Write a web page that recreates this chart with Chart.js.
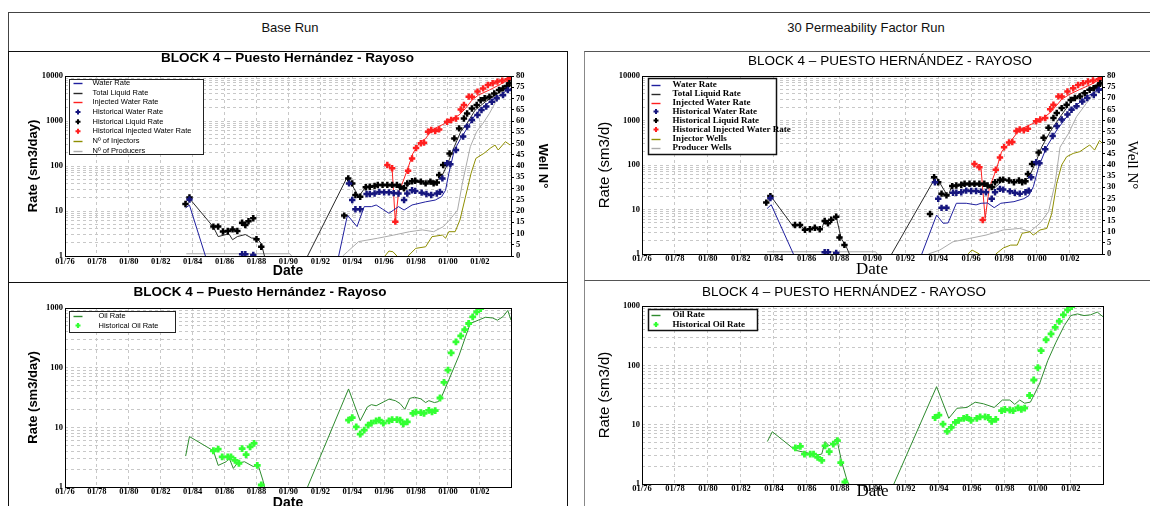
<!DOCTYPE html>
<html>
<head>
<meta charset="utf-8">
<title>BLOCK 4 – Puesto Hernández - Rayoso</title>
<script src="https://cdn.jsdelivr.net/npm/chart.js@4.4.1/dist/chart.umd.min.js"></script>
<style>
  html, body { margin: 0; padding: 0; background: #fff; width: 1150px; height: 506px; overflow: hidden; }
  #page { position: relative; width: 1150px; height: 506px; overflow: hidden; font-family: "Liberation Sans", Arial, sans-serif; }
  .frame { position: absolute; box-sizing: border-box; }
  .hdr { position: absolute; top: 20px; line-height: 15px; font-size: 13px; color: #111; transform: translateX(-50%); white-space: nowrap; }
  canvas { position: absolute; }
</style>
</head>
<body>
<div id="page">
  <div class="frame" style="left:8px;top:12px;width:1300px;height:700px;border:1px solid #444;"></div>
  <div class="hdr" style="left:290px;">Base Run</div>
  <div class="hdr" style="left:866px;">30 Permeability Factor Run</div>

  <div class="frame" style="left:8px;top:51px;width:560px;height:232px;border:1px solid #111;"></div>
  <div class="frame" style="left:8px;top:282px;width:560px;height:400px;border:1px solid #111;"></div>
  <div class="frame" style="left:584px;top:51px;width:700px;height:230px;border:1px solid #555;border-left-color:#888;"></div>
  <div class="frame" style="left:584px;top:280px;width:700px;height:400px;border:1px solid #555;border-left-color:#888;"></div>

  <canvas id="rateBase" width="557" height="228" style="left:9px;top:52px;"></canvas>
  <canvas id="ratePerm" width="610" height="228" style="left:585px;top:52px;"></canvas>
  <canvas id="oilBase"  width="557" height="230" style="left:9px;top:283px;"></canvas>
  <canvas id="oilPerm"  width="592" height="225" style="left:585px;top:281px;"></canvas>
</div>

<script>
// ---------- axes ----------
const X_MIN = 1976, X_MAX = 2003.95;               // decimal years
const dateTicks = [1976, 1978, 1980, 1982, 1984, 1986, 1988, 1990, 1992, 1994, 1996, 1998, 2000, 2002];
const rateDecades = [1, 10, 100, 1000, 10000];
const oilDecades = [1, 10, 100, 1000];
const wellTicks = [0, 5, 10, 15, 20, 25, 30, 35, 40, 45, 50, 55, 60, 65, 70, 75, 80];

// ---------- observed data, [year, sm3/d] ----------
const histLiquid = [[1983.55,14.3],[1983.8,20],[1985.3,4.5],[1985.6,4.5],[1985.9,3.5],[1986.2,3.6],[1986.5,3.9],[1986.8,3.6],[1987.1,5.5],[1987.3,4.9],[1987.5,5.9],[1987.8,6.9],[1988.0,2.35],[1988.3,1.6],
  [1993.5,7.9],[1993.75,53],[1994.0,41],[1994.2,22.7],[1994.5,20.8],[1994.85,33.6],[1995.1,34.6],[1995.4,35.9],[1995.6,37.9],[1995.9,38],[1996.2,38],[1996.5,38],[1996.8,38],[1997.0,34.6],[1997.25,32],[1997.45,41],[1997.75,46],[1997.95,47],[1998.3,45],[1998.6,41],[1998.9,45],[1999.1,41],[1999.3,43],[1999.45,63],[1999.7,105],
  [2000.1,190],[2000.4,410],[2000.7,685],[2001.0,1140],[2001.2,1470],[2001.5,1900],[2001.8,2260],[2002.05,2900],[2002.3,3200],[2002.6,3480],[2002.9,4100],[2003.2,4900],[2003.45,5300],[2003.7,6000],[2003.85,6900]];
const histWater = [[1983.8,18],[1987.1,1.1],[1987.3,1.1],[1987.8,1.05],
  [1993.8,41],[1994.0,17.5],[1994.2,10.9],[1994.5,10.9],[1994.9,23.8],[1995.1,23.8],[1995.4,24.5],[1995.7,26.6],[1996.0,26],[1996.3,26],[1996.6,25],[1996.9,24.5],[1997.25,17.5],[1997.45,24.5],[1997.75,29],[1997.95,28],[1998.35,25.6],[1998.65,23.8],[1998.95,22.7],[1999.3,24.5],[1999.5,26.6],[1999.65,53],[1999.95,115],
  [2000.15,110],[2000.5,226],[2000.95,450],[2001.2,750],[2001.5,1050],[2001.85,1360],[2002.1,1750],[2002.4,2100],[2002.75,2680],[2003.05,3200],[2003.45,3750],[2003.75,4900]];
const histInjected = [[1996.2,105],[1996.5,89],[1996.7,5.8],[1997.5,78],[1997.75,147],[1998.0,250],[1998.3,320],[1998.5,330],[1998.75,580],[1998.95,630],[1999.2,600],[1999.45,650],[1999.95,960],
  [2000.2,1050],[2000.5,1140],[2000.8,1800],[2001.0,2260],[2001.3,3480],[2001.5,3480],[2001.85,4500],[2002.2,5300],[2002.5,6300],[2002.8,6900],[2003.1,7500],[2003.4,7900],[2003.75,8450],[2003.9,9300]];
const histOil = [[1985.3,4.05],[1985.6,4.3],[1985.85,3.2],[1986.2,3.2],[1986.4,3.2],[1986.65,2.8],[1986.9,2.5],[1987.1,4.4],[1987.35,3.5],[1987.6,4.7],[1987.85,5.4],[1988.05,2.3],[1988.3,1.08],
  [1993.77,13.2],[1994.0,14.5],[1994.25,10.2],[1994.5,7.7],[1994.75,9],[1995.0,10.9],[1995.2,11.8],[1995.5,12.8],[1995.7,13.2],[1995.95,11.8],[1996.3,12.8],[1996.5,13.5],[1996.8,13.5],[1997.0,13.2],[1997.2,11.4],[1997.45,12.3],[1997.8,17.2],[1998.0,18],[1998.3,17.6],[1998.5,17.2],[1998.8,19.2],[1999.0,18.2],[1999.2,19],[1999.5,31],[1999.75,56.6],
  [2000.0,91],[2000.2,177],[2000.5,270],[2000.8,340],[2001.05,435],[2001.3,550],[2001.55,710],[2001.8,860],[2002.05,980]];

// ---------- simulated, base run ----------
const simWaterBase = [[1983.55,11.7],[1983.8,13.5],[1984.8,1],[1989,null],[1993.15,1],[1993.7,8.1],[1994.3,4.5],[1994.75,12.5],[1995.2,12.5],[1995.5,13.6],[1995.9,11],[1996.3,8.9],[1996.6,10.5],[1996.9,12.5],[1997.25,10.5],[1997.75,13.6],[1998.6,16],[1999.2,17.5],[1999.6,20.8],[1999.85,29],
  [2000.05,68],[2000.4,226],[2000.8,410],[2001.2,685],[2001.7,1360],[2002.35,2260],[2002.95,3200],[2003.6,4500],[2003.95,5300]];
const simLiquidBase = [[1983.6,16],[1983.8,19],[1985.3,4.4],[1985.6,2.7],[1986.1,3.0],[1986.3,3.0],[1986.5,2.3],[1986.8,2.7],[1987.3,3.0],[1987.7,2.5],[1988.0,2.5],[1988.3,1.9],[1988.5,1],[1990,null],
  [1991.2,1],[1993.7,58],[1994.4,20.8],[1994.85,34.6],[1995.5,37.9],[1996.3,36],[1996.8,34],[1997.2,29],[1997.75,44.6],[1998.6,41],[1999.2,44.6],[1999.6,58],[1999.95,105],
  [2000.4,270],[2000.8,580],[2001.2,890],[2001.7,1750],[2002.35,2680],[2002.95,3750],[2003.6,5300],[2003.95,6300]];
const simInjBase = [[1996.2,105],[1996.5,89],[1996.7,5.8],[1996.9,24.5],[1997.45,81],[1997.8,190],[1998.2,320],[1998.6,410],[1999.0,630],[1999.4,750],[1999.85,890],
  [2000.3,1140],[2000.7,1360],[2001.1,1900],[2001.5,2900],[2001.9,3750],[2002.6,4900],[2003.2,6300],[2003.95,8900]];
const injectorsBase = [[1996.05,0],[1996.3,2.2],[1996.55,1.9],[1996.8,0],[1997.2,null],[1997.5,0],[1997.98,3.4],[1998.6,4.1],[1999.0,8.6],[1999.65,9.3],[1999.85,7.9],
  [2000.05,10.8],[2000.45,10.8],[2000.75,16],[2001.05,24.9],[2001.45,36.8],[2001.75,43.4],[2002.25,45.6],[2002.65,47.9],[2002.95,49.3],[2003.15,47.1],[2003.6,50.8],[2003.9,49.3]];
const producersBase = [[1983.6,1],[1990.1,1],[1990.2,0],[1991,null],[1993.4,0],[1993.7,1.9],[1994.4,6.4],[1995.6,7.9],[1996.6,9.3],[1997.6,10.8],[1998.4,11.6],[1999.1,10.8],[1999.7,13],
  [2000.1,16],[2000.6,20.4],[2000.9,32.3],[2001.4,48.6],[2001.8,55.3],[2002.2,59],[2002.6,63.4],[2003.0,68.6],[2003.45,73.8],[2003.9,76]];
const simOilBase = [[1983.56,3.3],[1983.8,7.0],[1985.3,4.05],[1985.6,2.3],[1986.1,2.65],[1986.3,3.0],[1986.55,2.05],[1986.8,2.5],[1987.25,2.65],[1987.8,2.2],[1988.1,2.35],[1988.4,1.3],[1988.5,1],[1990,null],
  [1991.2,1],[1993.77,44],[1994.5,12.9],[1994.95,22],[1995.2,24],[1995.5,23],[1996.3,29.7],[1996.7,28],[1997.0,25],[1997.3,20],[1997.6,30.5],[1997.9,32],[1998.3,30],[1998.6,26],[1998.8,28],[1999.15,26],[1999.4,27],[1999.6,32.5],
  [2000.05,62],[2000.7,162],[2001.1,330],[2001.4,550],[2001.9,625],[2002.35,700],[2002.8,680],[2003.1,625],[2003.45,716],[2003.75,910],[2003.95,625]];

// ---------- simulated, permeability factor 30 ----------
const simWaterPerm = [[1983.6,10.5],[1983.85,12.8],[1985.2,1],[1989,null],[1993.0,1],[1993.9,7.5],[1994.3,4.9],[1994.6,5.0],[1995.1,13.8],[1995.7,13.8],[1996.3,12.7],[1996.6,13.8],[1997.0,14],[1997.4,11],[1997.8,13.8],[1998.6,15],[1999.2,17.5],[1999.5,20.5],[1999.78,32.6],
  [2000.1,91],[2000.6,260],[2001.2,610],[2001.8,1200],[2002.4,2230],[2003.2,3750],[2003.95,5300]];
const simLiquidPerm = [[1983.6,15],[1983.85,19.4],[1985.2,4.1],[1985.6,4.5],[1985.9,3.5],[1986.3,3.6],[1986.6,4.0],[1986.9,3.5],[1987.1,5.8],[1987.35,4.8],[1987.8,6.9],[1988.1,2.25],[1988.4,1.5],[1988.6,1],[1990,null],
  [1991.17,1],[1993.86,55],[1994.6,19.4],[1994.8,32.6],[1995.5,35],[1996.5,35],[1997.0,33],[1997.35,29],[1997.95,46],[1998.75,42],[1999.3,46],[1999.5,52],[1999.9,109],
  [2000.3,260],[2000.8,560],[2001.4,1200],[2002.0,2430],[2002.6,4030],[2003.4,5750],[2003.95,6800]];
const simInjPerm = [[1996.33,100],[1996.6,84],[1996.85,6.3],[1997.1,30],[1997.55,84],[1997.85,200],[1998.1,250],[1998.5,380],[1998.9,600],[1999.4,750],[1999.9,900],
  [2000.4,1150],[2000.8,1500],[2001.2,2200],[2001.5,3000],[2002.0,3900],[2002.6,5000],[2003.3,6500],[2003.95,9000]];
const injectorsPerm = [[1995.8,0],[1996.05,1.8],[1996.5,0],[1997,null],[1997.5,0],[1997.95,2.7],[1998.4,4.0],[1998.8,4.0],[1999.1,9.3],[1999.57,10],[1999.77,8.5],
  [2000.18,10.8],[2000.6,11.5],[2000.9,18.3],[2001.2,31.8],[2001.5,40],[2001.8,43.7],[2002.2,45.2],[2002.6,46],[2003.2,49],[2003.5,46.7],[2003.8,51],[2003.96,49.8]];
const producersPerm = [[1983.6,1],[1990.2,1],[1990.3,0],[1991,null],[1993.4,0],[1994.1,1.8],[1994.9,5.5],[1995.9,7],[1996.9,8.5],[1997.95,10.8],[1998.96,11.5],[1999.57,10],
  [2000.18,13.8],[2000.7,19],[2001.1,31.8],[2001.4,48],[2001.9,54],[2002.4,61.7],[2003.0,67.7],[2003.4,71.5],[2003.96,74.5]];
const simOilPerm = [[1983.6,5.2],[1983.9,7.6],[1985.3,3.7],[1986.1,3.3],[1986.7,3.1],[1986.9,3.2],[1987.1,5.2],[1987.35,4.4],[1987.8,5.9],[1988.1,2.4],[1988.45,1.1],[1988.55,1],[1990,null],
  [1991.27,1],[1993.86,43.7],[1994.6,12.8],[1995.1,18.9],[1995.7,19.5],[1996.2,23.9],[1996.7,22.5],[1997.35,19.5],[1997.85,26],[1998.3,26],[1998.6,22],[1998.9,26],[1999.2,23],[1999.55,24],[1999.7,29],
  [2000.1,48.6],[2000.6,120],[2001.1,245],[2001.6,466],[2002.0,690],[2002.4,735],[2002.8,690],[2003.2,710],[2003.6,790],[2003.95,660]];

// ---------- styling ----------
const SANS = '"Liberation Sans", Arial, sans-serif';
const SERIF = '"Liberation Serif", "Times New Roman", serif';
const GRID = '#c8c8c8';
const COL = {
  water: '#1f1f9e', waterMark: '#16167e', liquid: '#2a2a2a', liquidMark: '#000000',
  inj: '#ff1f1f', injectors: '#8e8e00', producers: '#ababab', oil: '#2e8b2e', oilMark: '#33ff33'
};

const xy = rows => rows.map(([x, y]) => ({ x, y }));
const simLine = (label, rows, color, axis = 'y', order = 1) => ({
  label, data: xy(rows), yAxisID: axis, borderColor: color, backgroundColor: color,
  borderWidth: 1, pointRadius: 0, tension: 0, spanGaps: false, order
});
const histMarks = (label, rows, color, r = 3.2, bw = 2.5) => ({
  label, data: xy(rows), yAxisID: 'y', showLine: false, borderColor: color, backgroundColor: color,
  pointStyle: 'cross', pointRadius: r, pointBorderWidth: bw, pointBorderColor: color, order: 0
});

function drawCross(ctx, x, y, r, color, w) {
  ctx.save();
  ctx.strokeStyle = color; ctx.lineWidth = w;
  ctx.beginPath();
  ctx.moveTo(x - r, y); ctx.lineTo(x + r, y);
  ctx.moveTo(x, y - r); ctx.lineTo(x, y + r);
  ctx.stroke();
  ctx.restore();
}

// outline of the plotting area
const plotFrame = {
  id: 'plotFrame',
  afterDatasetsDraw(chart) {
    const { ctx, chartArea: a } = chart;
    ctx.save();
    ctx.strokeStyle = '#000'; ctx.lineWidth = 1;
    ctx.strokeRect(Math.round(a.left) + 0.5, Math.round(a.top) + 0.5, Math.round(a.right - a.left), Math.round(a.bottom - a.top));
    ctx.restore();
  }
};

// boxed legend placed inside the plotting area
const boxLegend = {
  id: 'boxLegend',
  afterDraw(chart, _args, o) {
    if (!o || !o.w) return;
    const { ctx, chartArea: a } = chart;
    const bx = Math.round(a.left + o.x) + 0.5, by = Math.round(a.top + o.y) + 0.5;
    ctx.save();
    ctx.fillStyle = '#fff';
    ctx.fillRect(bx, by, o.w, o.h);
    ctx.strokeStyle = o.edge; ctx.lineWidth = o.edgeWidth;
    ctx.strokeRect(bx, by, o.w, o.h);
    ctx.font = o.font; ctx.textBaseline = 'middle'; ctx.textAlign = 'left';
    chart.data.datasets.forEach((ds, i) => {
      const y = by + o.first + i * o.step;
      if (ds.showLine === false) {
        drawCross(ctx, bx + o.markX, y, o.markR, ds.pointBorderColor, o.markW);
      } else {
        ctx.strokeStyle = ds.borderColor; ctx.lineWidth = 1.4;
        ctx.beginPath();
        ctx.moveTo(bx + o.lineX0, Math.round(y) + 0.5);
        ctx.lineTo(bx + o.lineX1, Math.round(y) + 0.5);
        ctx.stroke();
      }
      ctx.fillStyle = '#000';
      ctx.fillText(ds.label, bx + o.textX, y);
    });
    ctx.restore();
  }
};

function logTickList(top) {
  const out = [];
  for (let d = 1; d < top; d *= 10) for (let m = 1; m < 10; m++) out.push(d * m);
  out.push(top);
  return out;
}

function makeChart(id, o) {
  const top = o.decades[o.decades.length - 1];
  const scales = {
    x: {
      type: 'linear', min: X_MIN, max: X_MAX,
      afterBuildTicks: s => { s.ticks = dateTicks.map(v => ({ value: v })); },
      afterFit: s => { s.height = o.xHeight; },
      ticks: {
        autoSkip: false, maxRotation: 0, padding: o.xTickPad, color: '#000', font: o.tickFont,
        callback: v => '01/' + String(v % 100).padStart(2, '0')
      },
      grid: { color: GRID, drawTicks: false },
      border: { display: false, dash: [3, 3] },
      title: { display: true, text: 'Date', color: '#000', font: o.dateFont, padding: { top: 0, bottom: o.datePad } }
    },
    y: {
      type: 'logarithmic', position: 'left', min: 1, max: top,
      afterBuildTicks: s => { s.ticks = logTickList(top).map(v => ({ value: v })); },
      afterFit: s => { s.width = o.yWidth; },
      ticks: {
        autoSkip: false, padding: 2, color: '#000', font: o.tickFont,
        callback: v => o.decades.includes(v) ? String(v) : ''
      },
      grid: { color: GRID, drawTicks: false },
      border: { display: false, dash: [3, 3] },
      title: { display: true, text: o.yTitle, color: '#000', font: o.yTitleFont, padding: { top: o.yTitlePad, bottom: 0 } }
    }
  };
  if (o.wells) {
    scales.y2 = {
      type: 'linear', position: 'right', min: 0, max: 80,
      afterBuildTicks: s => { s.ticks = wellTicks.map(v => ({ value: v })); },
      afterFit: s => { s.width = o.y2Width; },
      ticks: { autoSkip: false, padding: 2, color: '#000', font: o.tickFont },
      grid: { drawOnChartArea: false, drawTicks: true, tickLength: 3, tickColor: '#000' },
      border: { display: false },
      title: { display: true, text: 'Well N°', color: '#000', font: o.wellFont, padding: { top: o.wellPad, bottom: 0 } }
    };
  }
  return new Chart(document.getElementById(id), {
    type: 'line',
    data: { datasets: o.datasets },
    options: {
      responsive: false, animation: false, devicePixelRatio: 1,
      layout: { padding: { left: 0, top: 0, bottom: 0, right: o.padRight || 0 } },
      plugins: {
        legend: { display: false },
        tooltip: { enabled: false },
        title: { display: true, text: o.title, color: '#000', font: o.titleFont, padding: { top: o.titleTop, bottom: o.titleBottom } },
        boxLegend: o.legend
      },
      scales
    },
    plugins: [plotFrame, boxLegend]
  });
}

const tickBoldSerif = { family: SERIF, size: 8.5, weight: 'bold', lineHeight: 1.2 };

// --- Base Run: rates and well counts ---
makeChart('rateBase', {
  decades: rateDecades, wells: true,
  title: 'BLOCK 4 – Puesto Hernández - Rayoso',
  titleFont: { family: SANS, size: 13.5, weight: 'bold', lineHeight: 1 }, titleTop: 0, titleBottom: 10.5,
  yTitle: 'Rate (sm3/day)', yTitleFont: { family: SANS, size: 13, weight: 'bold', lineHeight: 1 }, yTitlePad: 17.5,
  wellFont: { family: SANS, size: 13, weight: 'bold', lineHeight: 1 }, wellPad: 16.5,
  dateFont: { family: SANS, size: 14, weight: 'bold', lineHeight: 1 }, datePad: 2,
  tickFont: tickBoldSerif, xTickPad: 1,
  yWidth: 56, y2Width: 55, xHeight: 24,
  legend: { x: 4, y: 3, w: 134, h: 75, first: 3.6, step: 9.65, lineX0: 4, lineX1: 13, markX: 8.5, markR: 2.5, markW: 2,
            textX: 23, font: '7.5px ' + SANS, edge: '#222', edgeWidth: 1 },
  datasets: [
    simLine('Water Rate', simWaterBase, COL.water),
    simLine('Total Liquid Rate', simLiquidBase, COL.liquid),
    simLine('Injected Water Rate', simInjBase, COL.inj),
    histMarks('Historical Water Rate', histWater, COL.waterMark),
    histMarks('Historical Liquid Rate', histLiquid, COL.liquidMark),
    histMarks('Historical Injected Water Rate', histInjected, COL.inj),
    simLine('Nº of Injectors', injectorsBase, COL.injectors, 'y2', 2),
    simLine('Nº of Producers', producersBase, COL.producers, 'y2', 2)
  ]
});

// --- Permeability factor 30: rates and well counts ---
makeChart('ratePerm', {
  decades: rateDecades, wells: true,
  title: 'BLOCK 4 – PUESTO HERNÁNDEZ - RAYOSO',
  titleFont: { family: SANS, size: 13.5, weight: 'normal', lineHeight: 1 }, titleTop: 3, titleBottom: 7.5,
  yTitle: 'Rate (sm3/d)', yTitleFont: { family: SANS, size: 15, weight: 'normal', lineHeight: 1 }, yTitlePad: 12.5,
  wellFont: { family: SERIF, size: 15, weight: 'normal', lineHeight: 1 }, wellPad: 55.5,
  dateFont: { family: SERIF, size: 17, weight: 'normal', lineHeight: 1 }, datePad: 1.5,
  tickFont: tickBoldSerif, xTickPad: 0,
  yWidth: 57, y2Width: 93, xHeight: 26,
  legend: { x: 6, y: 2, w: 128, h: 76, first: 6, step: 9, lineX0: 3, lineX1: 12, markX: 7.5, markR: 2.5, markW: 2,
            textX: 24, font: 'bold 9px ' + SERIF, edge: '#111', edgeWidth: 1.5 },
  datasets: [
    simLine('Water Rate', simWaterPerm, COL.water),
    simLine('Total Liquid Rate', simLiquidPerm, COL.liquid),
    simLine('Injected Water Rate', simInjPerm, COL.inj),
    histMarks('Historical Water Rate', histWater, COL.waterMark),
    histMarks('Historical Liquid Rate', histLiquid, COL.liquidMark),
    histMarks('Historical Injected Water Rate', histInjected, COL.inj),
    simLine('Injector Wells', injectorsPerm, COL.injectors, 'y2', 2),
    simLine('Producer Wells', producersPerm, COL.producers, 'y2', 2)
  ]
});

// --- Base Run: oil ---
makeChart('oilBase', {
  decades: oilDecades, wells: false, padRight: 55,
  title: 'BLOCK 4 – Puesto Hernández - Rayoso',
  titleFont: { family: SANS, size: 13.5, weight: 'bold', lineHeight: 1 }, titleTop: 3, titleBottom: 8.5,
  yTitle: 'Rate (sm3/day)', yTitleFont: { family: SANS, size: 13, weight: 'bold', lineHeight: 1 }, yTitlePad: 17.5,
  dateFont: { family: SANS, size: 14, weight: 'bold', lineHeight: 1 }, datePad: 3,
  tickFont: tickBoldSerif, xTickPad: 0,
  yWidth: 56, xHeight: 26,
  legend: { x: 4, y: 3, w: 106, h: 21, first: 4.5, step: 9.5, lineX0: 4, lineX1: 13, markX: 8.5, markR: 2.5, markW: 2.2,
            textX: 29, font: '7.5px ' + SANS, edge: '#222', edgeWidth: 1 },
  datasets: [
    simLine('Oil Rate', simOilBase, COL.oil),
    histMarks('Historical Oil Rate', histOil, COL.oilMark, 3.4, 2.8)
  ]
});

// --- Permeability factor 30: oil ---
makeChart('oilPerm', {
  decades: oilDecades, wells: false, padRight: 74,
  title: 'BLOCK 4 – PUESTO HERNÁNDEZ - RAYOSO',
  titleFont: { family: SANS, size: 13.5, weight: 'normal', lineHeight: 1 }, titleTop: 5, titleBottom: 6.5,
  yTitle: 'Rate (sm3/d)', yTitleFont: { family: SANS, size: 15, weight: 'normal', lineHeight: 1 }, yTitlePad: 12.5,
  dateFont: { family: SERIF, size: 17, weight: 'normal', lineHeight: 1 }, datePad: 5.5,
  tickFont: tickBoldSerif, xTickPad: 0,
  yWidth: 57, xHeight: 22,
  legend: { x: 6, y: 3, w: 109, h: 21, first: 5, step: 10, lineX0: 3, lineX1: 12, markX: 7.5, markR: 2.5, markW: 2.2,
            textX: 24, font: 'bold 9px ' + SERIF, edge: '#111', edgeWidth: 1.5 },
  datasets: [
    simLine('Oil Rate', simOilPerm, COL.oil),
    histMarks('Historical Oil Rate', histOil, COL.oilMark, 3.4, 2.8)
  ]
});
</script>
</body>
</html>
